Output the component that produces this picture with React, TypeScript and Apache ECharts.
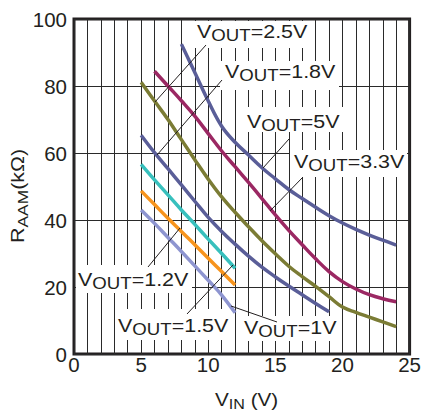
import React, { useEffect, useRef } from "react";
import * as echarts from "echarts";

// ---------- data ----------
const vin5V = [8, 9, 10, 11, 12, 13, 14, 15, 16, 17, 18, 19, 20, 21, 22, 23, 24];
const r5V = [92.5, 84, 75.5, 68, 63.2, 59.4, 55.6, 52.3, 49.1, 46.4, 43.8, 41.3, 39.1, 37.2, 35.5, 34, 32.5];

const vin3V3 = [6, 7, 8, 9, 10, 11, 12, 13, 14, 15, 16, 17, 18, 19, 20, 21, 22, 23, 24];
const r3V3 = [84.4, 80, 75.6, 71, 65.8, 60.6, 55.9, 51.2, 46.4, 41.5, 36.9, 32.6, 28.4, 24.6, 21.6, 19.4, 17.7, 16.5, 15.6];

const vin2V5 = [5, 6, 7, 8, 9, 10, 11, 12, 13, 14, 15, 16, 17, 18, 19, 20, 21, 22, 23, 24];
const r2V5 = [81.1, 75.5, 70, 64, 58, 52.2, 46.9, 42.3, 38, 33.8, 29.9, 26.2, 23.1, 20.2, 17.1, 14, 12.4, 11, 9.6, 8.2];

const vin1V8 = [5, 6, 7, 8, 9, 10, 11, 12, 13, 14, 15, 16, 17, 18, 19];
const r1V8 = [65.3, 60.1, 55.3, 50.5, 45.6, 40.8, 36.6, 32.8, 29.2, 25.9, 23, 20.3, 17.7, 15.1, 12.6];

const vinLow = [5, 6, 7, 8, 9, 10, 11, 12];
const r1V5 = [56.6, 52, 47.5, 43, 38.7, 34.3, 30, 25.6];
const r1V2 = [48.7, 44.6, 40.5, 36.6, 32.6, 28.6, 24.6, 20.6];
const r1V = [43, 39, 34.8, 30.6, 26.3, 22, 17.6, 12.3];

const seriesNames = ["5V", "3.3V", "2.5V", "1.8V", "1.5V", "1.2V", "1V"];
const seriesX = [vin5V, vin3V3, vin2V5, vin1V8, vinLow, vinLow, vinLow];
const seriesY = [r5V, r3V3, r2V5, r1V8, r1V5, r1V2, r1V];
const seriesColors = ["#5a5e98", "#9b2863", "#7b7c35", "#5a5e98", "#38c0bd", "#f7941d", "#8e95d0"];

const xMin = 0, xMax = 25, xStep = 5;
const yMin = 0, yMax = 100, yStep = 20;

// ---------- styling ----------
const FONT = '"Liberation Sans", Arial, Helvetica, sans-serif';
const INK = "#231f20";
const GRIDC = "#2a2a2a";

let measureCtx: CanvasRenderingContext2D | null = null;
function measure(text: string, size: number) {
  if (!measureCtx) measureCtx = document.createElement("canvas").getContext("2d");
  if (!measureCtx) return text.length * size * 0.6;
  measureCtx.font = `${size}px "Liberation Sans"`;
  return measureCtx.measureText(text).width;
}

type Part = { t: string; sub?: boolean };
function subText(parts: Part[], x: number, base: number, main: number, sub: number, sx: number, drop: number, rotation = 0) {
  let off = 0;
  const children = parts.map((p) => {
    const size = p.sub ? sub : main;
    const el = {
      type: "text",
      x: off,
      y: (p.sub ? drop : 0) - 0.355 * size,
      z: 4,
      style: { text: p.t, fontSize: size, fontFamily: FONT, fill: INK, align: "left", verticalAlign: "middle" },
    };
    off += measure(p.t, size);
    return el;
  });
  return { type: "group", x, y: base, scaleX: sx, rotation, children };
}

// annotation layout (pixels): label start, baseline, white box, leader line
const labels = [
  { v: "2.5V", x: 197, base: 38.5, box: [195, 21, 116, 27], lead: [206, 45, 155, 102] },
  { v: "1.8V", x: 225, base: 78, box: [220, 61, 119, 29], lead: [222, 80, 157, 155] },
  { v: "5V", x: 247, base: 128, box: [244, 107, 100, 25], lead: [289, 139, 263, 168] },
  { v: "3.3V", x: 294, base: 168, box: [290, 150, 117, 27], lead: [303, 177, 270, 211] },
  { v: "1.2V", x: 78, base: 286, box: [76, 265, 116, 28], lead: [148, 267, 180, 228] },
  { v: "1.5V", x: 118, base: 332, box: [115, 309, 114, 31], lead: [187, 314, 233, 265] },
  { v: "1V", x: 244, base: 334, box: [240, 316, 98, 25], lead: [231, 306, 277, 322] },
];

export default function App() {
  const ref = useRef<HTMLDivElement>(null);
  useEffect(() => {
    if (!ref.current) return;
    const chart = echarts.init(ref.current, undefined, { renderer: "svg" });

    const graphic: any[] = [];
    labels.forEach((l) => {
      graphic.push({
        type: "rect",
        z: 1,
        shape: { x: l.box[0], y: l.box[1], width: l.box[2], height: l.box[3] },
        style: { fill: "#ffffff" },
      });
    });
    labels.forEach((l) => {
      graphic.push({
        type: "line",
        z: 3,
        shape: { x1: l.lead[0], y1: l.lead[1], x2: l.lead[2], y2: l.lead[3] },
        style: { stroke: INK, lineWidth: 1 },
      });
    });
    labels.forEach((l) => {
      graphic.push(subText([{ t: "V" }, { t: "OUT", sub: true }, { t: "=" + l.v }], l.x, l.base, 19, 16.5, 1.13, 3));
    });
    // axis titles
    graphic.push(subText([{ t: "V" }, { t: "IN", sub: true }, { t: " (V)" }], 215, 406, 18, 14, 1.15, 3));
    graphic.push(subText([{ t: "R" }, { t: "AAM", sub: true }, { t: "(kΩ)" }], 24.5, 243, 18.5, 15, 1.16, 3, Math.PI / 2));

    chart.setOption({
      animation: false,
      backgroundColor: "#ffffff",
      grid: { left: 74, top: 19, width: 337, height: 335, show: true, borderColor: INK, borderWidth: 3, backgroundColor: "transparent" },
      xAxis: {
        type: "value",
        min: xMin,
        max: xMax,
        interval: xStep,
        axisLine: { show: false },
        axisTick: { show: false },
        minorTick: { show: false, splitNumber: 5 },
        splitLine: { show: true, lineStyle: { color: GRIDC, width: 1 } },
        minorSplitLine: { show: true, lineStyle: { color: GRIDC, width: 1 } },
        axisLabel: { fontSize: 20.5, color: INK, fontFamily: FONT, margin: 0 },
      },
      yAxis: {
        type: "value",
        min: yMin,
        max: yMax,
        interval: yStep,
        axisLine: { show: false },
        axisTick: { show: false },
        splitLine: { show: true, lineStyle: { color: GRIDC, width: 1 } },
        axisLabel: { fontSize: 20.5, color: INK, fontFamily: FONT, margin: 7 },
      },
      series: seriesNames.map((n, i) => ({
        name: n,
        type: "line",
        z: 2,
        smooth: 0.4,
        symbol: "none",
        showSymbol: false,
        lineStyle: { width: 3.5, color: seriesColors[i] },
        data: seriesX[i].map((x, j) => [x, seriesY[i][j]]),
      })),
      graphic,
    });
    return () => chart.dispose();
  }, []);
  return <div ref={ref} style={{ position: "fixed", left: 0, top: 0, width: 424, height: 412, background: "#fff" }} />;
}
